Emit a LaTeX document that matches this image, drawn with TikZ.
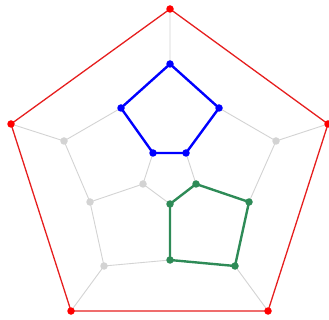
\documentclass[tikz,border=0pt]{standalone}
\definecolor{grayedge}{RGB}{211,211,211}
\definecolor{seagr}{RGB}{46,139,87}
\definecolor{redc}{RGB}{230,30,30}
\tikzset{
  v/.style={circle,inner sep=0pt,minimum size=7.5pt,fill=#1},
  ge/.style={draw=grayedge,line width=0.9pt},
  re/.style={draw=redc,line width=1.3pt},
  be/.style={draw=blue,line width=2.4pt},
  gre/.style={draw=seagr,line width=2.4pt}
}
\begin{document}
\begin{tikzpicture}[x=1pt,y=-1pt]
\useasboundingbox (0,0) rectangle (329,320);
% outer
\coordinate (o1) at (170,9);
\coordinate (o2) at (328,124);
\coordinate (o3) at (268,311);
\coordinate (o4) at (71,311);
\coordinate (o5) at (11,124);
% blue
\coordinate (b1) at (170,64);
\coordinate (b2) at (219,108);
\coordinate (b3) at (186,153);
\coordinate (b4) at (153,153);
\coordinate (b5) at (121,108);
% gray
\coordinate (g1) at (64,141);
\coordinate (g2) at (276,141);
\coordinate (g3) at (90,202);
\coordinate (g4) at (143,184);
\coordinate (g5) at (104,266);
% green
\coordinate (n1) at (170,204);
\coordinate (n2) at (196,184);
\coordinate (n3) at (249,202);
\coordinate (n4) at (235,266);
\coordinate (n5) at (170,260);
% gray edges
\path[ge] (o1)--(b1) (o5)--(g1) (o2)--(g2) (o4)--(g5) (o3)--(n4)
  (b5)--(g1) (b2)--(g2) (g1)--(g3) (g2)--(n3) (g3)--(g4) (g3)--(g5)
  (g5)--(n5) (g4)--(b4) (g4)--(n1) (n2)--(b3);
\path[re] (o1)--(o2)--(o3)--(o4)--(o5)--cycle;
\path[be,line join=round] (b1)--(b2)--(b3)--(b4)--(b5)--cycle;
\path[gre,line join=round] (n1)--(n2)--(n3)--(n4)--(n5)--cycle;
\foreach \p in {g1,g2,g3,g4,g5} \node[v=grayedge] (d\p) at (\p) {};
\foreach \p in {o1,o2,o3,o4,o5} \node[v=red] (d\p) at (\p) {};
\foreach \p in {b1,b2,b3,b4,b5} \node[v=blue] (d\p) at (\p) {};
\foreach \p in {n1,n2,n3,n4,n5} \node[v=seagr] (d\p) at (\p) {};
\end{tikzpicture}
\end{document}
